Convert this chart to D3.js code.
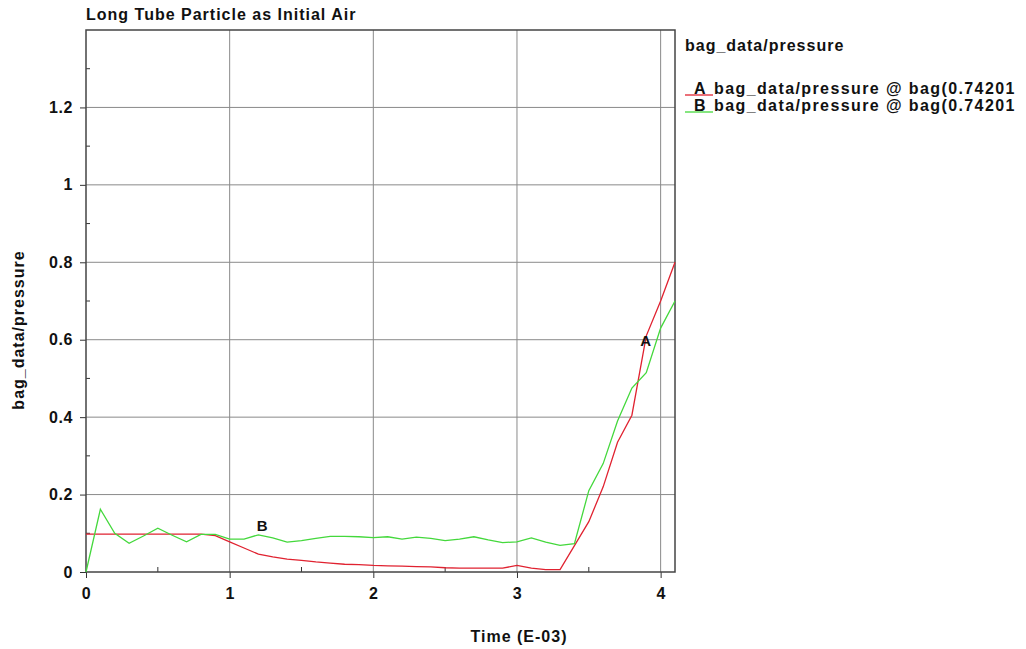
<!DOCTYPE html>
<html>
<head>
<meta charset="utf-8">
<script src="https://cdn.jsdelivr.net/npm/d3@7"></script>
<style>
  body { margin: 0; background: #fff; }
  svg { font-family: "Liberation Sans", Arial, sans-serif; font-weight: bold; }
  .grid-line { stroke: #8a8a8a; stroke-width: 1; }
  .lbl { font-size: 16px; letter-spacing: 1px; fill: #111; }
</style>
</head>
<body>
<svg id="chart"></svg>
<script>
// time axis, E-03
let times = [0, 0.1, 0.2, 0.3, 0.4, 0.5, 0.6, 0.7, 0.8, 0.9,
  1.0, 1.1, 1.2, 1.3, 1.4, 1.5, 1.6, 1.7, 1.8, 1.9,
  2.0, 2.1, 2.2, 2.3, 2.4, 2.5, 2.6, 2.7, 2.8, 2.9,
  3.0, 3.1, 3.2, 3.3, 3.4, 3.5, 3.6, 3.7, 3.8, 3.9, 4.0, 4.1];

let pressureA = [0.098, 0.098, 0.098, 0.098, 0.098, 0.098, 0.098, 0.098, 0.098, 0.094,
  0.078, 0.062, 0.046, 0.039, 0.033, 0.030, 0.026, 0.023, 0.020, 0.019,
  0.017, 0.016, 0.015, 0.014, 0.013, 0.011, 0.010, 0.010, 0.010, 0.010,
  0.017, 0.010, 0.006, 0.006, 0.068, 0.130, 0.220, 0.335, 0.405, 0.610, 0.700, 0.800];

let pressureB = [0.000, 0.162, 0.100, 0.074, 0.093, 0.113, 0.095, 0.078, 0.097, 0.097,
  0.085, 0.085, 0.096, 0.088, 0.077, 0.081, 0.087, 0.092, 0.092, 0.091,
  0.089, 0.091, 0.085, 0.090, 0.087, 0.081, 0.085, 0.091, 0.083, 0.076,
  0.078, 0.088, 0.077, 0.069, 0.073, 0.210, 0.280, 0.390, 0.475, 0.515, 0.630, 0.700];

let xTicks = [0, 1, 2, 3, 4];
let xMinor = [0.5, 1.5, 2.5, 3.5];
let yTicks = [0, 0.2, 0.4, 0.6, 0.8, 1, 1.2];
let yMinor = [0.1, 0.3, 0.5, 0.7, 0.9, 1.1, 1.3];

let seriesNames = ["A", "B"];
let seriesColors = ["#e02230", "#44d83c"];
let legendLabel = "bag_data/pressure @ bag(0.74201";

let width = 1026, height = 649;
let plotLeft = 86, plotRight = 675, plotTop = 30, plotBottom = 572;

let svg = d3.select("#chart").attr("width", width).attr("height", height);

let scaleX = d3.scaleLinear().domain([0, 4.1]).range([plotLeft, plotRight]);
let scaleY = d3.scaleLinear().domain([0, 1.4]).range([plotBottom, plotTop]);

// grid
svg.selectAll(".gx").data(xTicks.filter(d => d > 0)).enter().append("line")
  .attr("class", "grid-line")
  .attr("x1", d => scaleX(d)).attr("x2", d => scaleX(d))
  .attr("y1", plotTop).attr("y2", plotBottom);
svg.selectAll(".gy").data(yTicks.filter(d => d > 0)).enter().append("line")
  .attr("class", "grid-line")
  .attr("x1", plotLeft).attr("x2", plotRight)
  .attr("y1", d => scaleY(d)).attr("y2", d => scaleY(d));

// axes
let axisX = d3.axisBottom(scaleX).tickValues(xTicks).tickFormat(d3.format("d")).tickSize(6).tickPadding(5);
let axisY = d3.axisLeft(scaleY).tickValues(yTicks).tickFormat(d => d).tickSize(6).tickPadding(7);

let gx = svg.append("g").attr("transform", `translate(0, ${plotBottom})`).call(axisX);
let gy = svg.append("g").attr("transform", `translate(${plotLeft}, 0)`).call(axisY);
[gx, gy].forEach(g => {
  g.select(".domain").remove();
  g.selectAll("line").attr("stroke", "#333");
  g.selectAll("text").attr("fill", "#111").style("font-size", "16px").style("font-weight", "bold")
    .style("letter-spacing", "0.6px")
    .style("font-family", "Liberation Sans, Arial, sans-serif");
});
gx.selectAll("text").attr("dy", "1em");

// minor ticks
svg.selectAll(".mx").data(xMinor).enter().append("line")
  .attr("x1", d => scaleX(d)).attr("x2", d => scaleX(d))
  .attr("y1", plotBottom).attr("y2", plotBottom - 5)
  .attr("stroke", "#333");
svg.selectAll(".my").data(yMinor).enter().append("line")
  .attr("x1", plotLeft).attr("x2", plotLeft + 4)
  .attr("y1", d => scaleY(d)).attr("y2", d => scaleY(d))
  .attr("stroke", "#333");

// frame
svg.append("rect")
  .attr("x", plotLeft).attr("y", plotTop)
  .attr("width", plotRight - plotLeft).attr("height", plotBottom - plotTop)
  .attr("fill", "none").attr("stroke", "#444").attr("stroke-width", 1.5);

// lines
let line = d3.line().x(d => scaleX(d[0])).y(d => scaleY(d[1]));
let allSeries = [pressureA, pressureB];
allSeries.forEach((vals, i) => {
  svg.append("path")
    .datum(times.map((t, j) => [t, vals[j]]))
    .attr("d", line)
    .attr("fill", "none")
    .attr("stroke", seriesColors[i])
    .attr("stroke-width", 1.3);
});

// curve labels
svg.append("text").attr("class", "lbl").attr("x", scaleX(3.9)).attr("y", scaleY(0.6) + 6)
  .attr("text-anchor", "middle").style("font-size", "15px").text("A");
svg.append("text").attr("class", "lbl").attr("x", scaleX(1.23)).attr("y", scaleY(0.098) - 3)
  .attr("text-anchor", "middle").style("font-size", "15px").text("B");

// title and axis labels
svg.append("text").attr("class", "lbl").attr("x", plotLeft).attr("y", 20)
  .text("Long Tube Particle as Initial Air");
svg.append("text").attr("class", "lbl").attr("x", 519).attr("y", 642)
  .attr("text-anchor", "middle").text("Time (E-03)");
svg.append("text").attr("class", "lbl").attr("transform", "translate(24, 330) rotate(-90)")
  .attr("text-anchor", "middle").text("bag_data/pressure");

// legend
svg.append("text").attr("class", "lbl").attr("x", 685).attr("y", 51)
  .text("bag_data/pressure");
seriesNames.forEach((name, i) => {
  let y = 94 + i * 17;
  svg.append("line").attr("x1", 685).attr("x2", 713)
    .attr("y1", y + 1).attr("y2", y + 1)
    .attr("stroke", seriesColors[i]).attr("stroke-width", 1.3);
  svg.append("text").attr("class", "lbl").attr("x", 694).attr("y", y).text(name);
  svg.append("text").attr("class", "lbl").attr("x", 714).attr("y", y)
    .style("letter-spacing", "1.4px").text(legendLabel);
});
</script>
</body>
</html>
